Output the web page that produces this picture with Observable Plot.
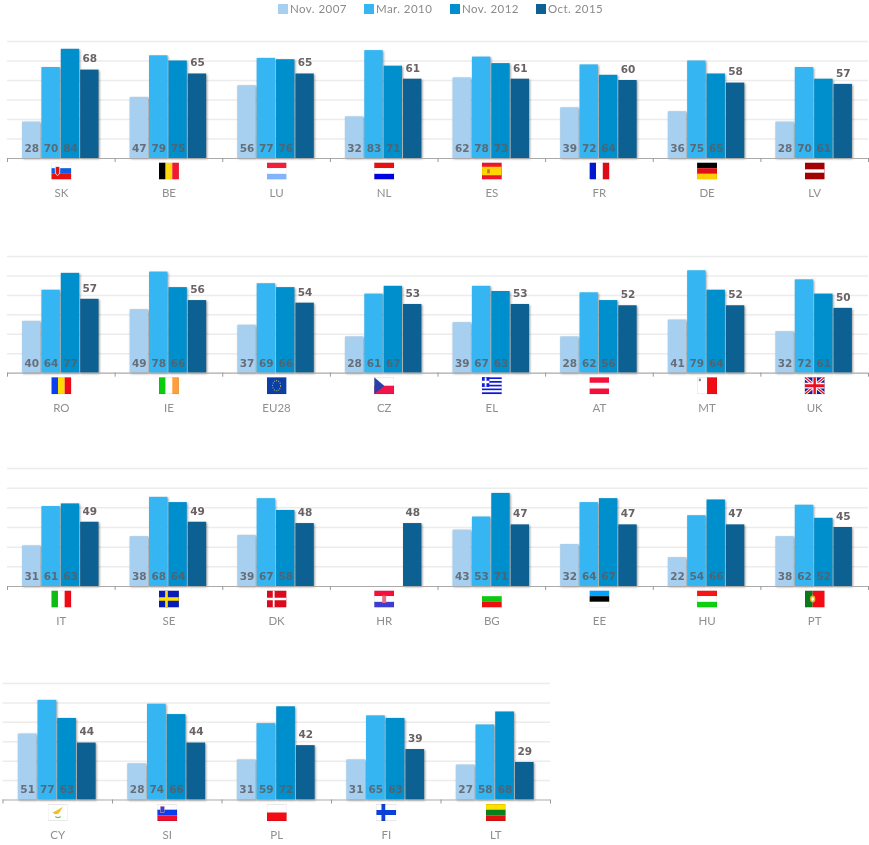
<!DOCTYPE html>
<html>
<head>
<meta charset="utf-8">
<script src="https://cdn.jsdelivr.net/npm/d3@7"></script>
<script src="https://cdn.jsdelivr.net/npm/@observablehq/plot@0.6"></script>
<style>
  html, body { margin: 0; padding: 0; background: #fff; }
  #page { position: relative; width: 869px; height: 845px; overflow: hidden; filter: blur(0.4px); }
  #page > * { position: absolute; }
  #legend { left: 278px; top: -8px; margin: 0 !important; width: 400px; display: flex; flex-wrap: nowrap; }
  #legend > span { width: 86px; margin: 0 !important; flex: none; letter-spacing: 0.45px; }
  #legend svg { margin-right: 2px !important; }
</style>
</head>
<body>
<div id="page"></div>
<script>
const seriesNames = ["Nov. 2007", "Mar. 2010", "Nov. 2012", "Oct. 2015"];
const seriesColors = ["#a6cff0", "#35b6f2", "#008fcd", "#0c6092"];

const rows = [
  ["SK","BE","LU","NL","ES","FR","DE","LV"],
  ["RO","IE","EU28","CZ","EL","AT","MT","UK"],
  ["IT","SE","DK","HR","BG","EE","HU","PT"],
  ["CY","SI","PL","FI","LT"]
];
const nov2007 = [28,47,56,32,62,39,36,28, 40,49,37,28,39,28,41,32, 31,38,39,null,43,32,22,38, 51,28,31,31,27];
const mar2010 = [70,79,77,83,78,72,75,70, 64,78,69,61,67,62,79,72, 61,68,67,null,53,64,54,62, 77,74,59,65,58];
const nov2012 = [84,75,76,71,73,64,65,61, 77,66,66,67,63,56,64,61, 63,64,58,null,71,67,66,52, 63,66,72,63,68];
const oct2015 = [68,65,65,61,61,60,58,57, 57,56,54,53,53,52,52,50, 49,49,48,48,47,47,47,45, 44,44,42,39,29];
const yTicks = [0,15,30,45,60,75,90];

const h = c => c.map((f,i,a)=>`<rect x="0" y="${i*60/a.length}" width="90" height="${60/a.length}" fill="${f}"/>`).join("");
const v = c => c.map((f,i,a)=>`<rect x="${i*90/a.length}" y="0" width="${90/a.length}" height="60" fill="${f}"/>`).join("");
const flagArt = {
  SK: h(["#fff","#0b5fe0","#e81010"]) + `<path d="M18 14h20v20q0 8-10 12q-10-4-10-12z" fill="#e81010" stroke="#fff" stroke-width="3"/>`,
  BE: v(["#000","#ffd90c","#f31830"]),
  LU: h(["#f0203c","#fff","#80b4ff"]),
  NL: h(["#e81010","#fff","#0000e0"]),
  ES: `<rect width="90" height="60" fill="#f0162a"/><rect y="15" width="90" height="30" fill="#ffd400"/><rect x="24" y="24" width="12" height="14" fill="#c8702a"/>`,
  FR: v(["#0018d0","#fff","#dd0a18"]),
  DE: h(["#000","#e0101a","#ffce00"]),
  LV: `<rect width="90" height="60" fill="#a40000"/><rect y="24" width="90" height="12" fill="#fff"/>`,
  RO: v(["#0b3ff0","#ffdc00","#ee0a18"]),
  IE: v(["#0ccc10","#fff","#ff9f3c"]),
  EU28: `<rect width="90" height="60" fill="#0a3fa8"/><circle cx="45" cy="30" r="18" fill="none" stroke="#c8b840" stroke-width="4" stroke-dasharray="4 5"/>`,
  CZ: `<rect width="90" height="30" fill="#fff"/><rect y="30" width="90" height="30" fill="#f0144a"/><path d="M0 0L45 30L0 60z" fill="#2a3fa8"/>`,
  EL: h(["#1018e0","#fff","#1018e0","#fff","#1018e0","#fff","#1018e0","#fff","#1018e0"]) + `<rect width="34" height="34" fill="#1018e0"/><path d="M13 0h8v34h-8zM0 13h34v8H0z" fill="#fff"/>`,
  AT: h(["#f4103c","#fff","#f4103c"]),
  MT: v(["#fff","#f00c14"]) + `<rect x="8" y="5" width="9" height="9" fill="#888"/>`,
  UK: `<rect width="90" height="60" fill="#1a1a9c"/><path d="M0 0L90 60M90 0L0 60" stroke="#fff" stroke-width="12"/><path d="M0 0L90 60M90 0L0 60" stroke="#e81020" stroke-width="5"/><path d="M45 0V60M0 30H90" stroke="#fff" stroke-width="20"/><path d="M45 0V60M0 30H90" stroke="#e81020" stroke-width="11"/>`,
  IT: v(["#0cbc14","#fff","#ee0a14"]),
  SE: `<rect width="90" height="60" fill="#0a1cb8"/><path d="M34 0V60M0 30H90" stroke="#ffe000" stroke-width="12"/>`,
  DK: `<rect width="90" height="60" fill="#dc0a1e"/><path d="M32 0V60M0 30H90" stroke="#fff" stroke-width="8"/>`,
  HR: h(["#f4103c","#fff","#3c3cd0"]) + `<rect x="36" y="18" width="18" height="26" fill="#e87088"/>`,
  BG: h(["#fff","#0cc810","#ee1010"]),
  EE: h(["#00a4ff","#000","#fff"]),
  HU: h(["#f81414","#fff","#0cd010"]),
  PT: `<rect x="0" y="0" width="36" height="60" fill="#0a7a1a"/><rect x="36" y="0" width="54" height="60" fill="#f40c14"/><circle cx="36" cy="30" r="12" fill="#e8b030"/><circle cx="36" cy="30" r="6" fill="#fff"/>`,
  CY: `<rect width="90" height="60" fill="#fff"/><path d="M22 30L42 22L68 10L56 26L48 34L32 36z" fill="#f0c020"/><path d="M34 44q12 8 24 0" fill="none" stroke="#70c060" stroke-width="5"/>`,
  SI: h(["#fff","#0a3cf0","#ee1030"]) + `<rect x="14" y="8" width="18" height="22" fill="#1a48e0" stroke="#f0a0a0" stroke-width="2"/>`,
  PL: h(["#fff","#f40c14"]),
  FI: `<rect width="90" height="60" fill="#fff"/><path d="M32 0V60M0 30H90" stroke="#0c40d8" stroke-width="17"/>`,
  LT: h(["#ffe000","#0a801a","#e01010"])
};
const flagSrc = code => "data:image/svg+xml," + encodeURIComponent(
  `<svg xmlns="http://www.w3.org/2000/svg" viewBox="0 0 90 60" preserveAspectRatio="none"><rect width="90" height="60" fill="#fff"/>${flagArt[code]}<rect x="1" y="1" width="88" height="58" fill="none" stroke="#000" stroke-opacity=".16" stroke-width="2"/></svg>`);

const page = document.getElementById("page");

const legend = Plot.legend({
  color: {type: "ordinal", domain: seriesNames, range: seriesColors},
  swatchSize: 10, style: {fontFamily: "Lato, sans-serif", fontSize: "11.5px", color: "#8a8a8a"}
});
legend.id = "legend";
page.appendChild(legend);

// each row: left and right ends of the axis, top grid line and baseline (page pixels)
const rowBoxes = [
  {x0: 7, x1: 868, top: 41, base: 158},
  {x0: 7, x1: 868, top: 256, base: 372.7},
  {x0: 7, x1: 868, top: 467.5, base: 585.5},
  {x0: 2.5, x1: 550, top: 683, base: 799.5}
];
const marginTop = 30, marginBottom = 48;
const valueFont = {fontSize: 10.5, fontWeight: 700, fontFamily: "'DejaVu Sans', sans-serif", lineAnchor: "middle"};
let offset = 0;
rows.forEach((names, r) => {
  const b = rowBoxes[r];
  const n = names.length;
  const table = names.flatMap((name, i) => {
    const k = offset + i;
    return [nov2007[k], mar2010[k], nov2012[k], oct2015[k]].map((value, s) => ({name, i, s, value}));
  }).filter(d => d.value != null);
  offset += n;
  const cats = names.map((name, i) => ({name, i}));
  const barW = 0.18, start = 0.135;
  const chart = Plot.plot({
    width: 869,
    height: b.base - b.top + marginTop + marginBottom,
    marginLeft: b.x0, marginRight: 869 - b.x1, marginTop, marginBottom,
    x: {domain: [0, n], axis: null},
    y: {domain: [0, 90], axis: null},
    style: {background: "transparent", overflow: "visible"},
    marks: [
      Plot.ruleY(yTicks.filter(t => t > 0), {stroke: "#ececec", strokeWidth: 1.5}),
      Plot.rectY(table, {
        x1: d => d.i + start + d.s * barW,
        x2: d => d.i + start + (d.s + 1) * barW,
        y1: 0, y2: "value",
        fill: d => seriesColors[d.s],
        insetLeft: 0.5, insetRight: 0.5,
        imageFilter: "drop-shadow(1.2px 1.2px 1.2px rgba(0,0,0,.4))"
      }),
      Plot.ruleY([0], {stroke: "#aaa", strokeWidth: 1.2}),
      Plot.axisX({ticks: d3.range(n + 1), tickSize: 4, tickFormat: () => "", stroke: "#999", label: null}),
      Plot.text(table.filter(d => d.s < 3), {
        x: d => d.i + start + (d.s + 0.5) * barW, y: 0, dy: -10,
        text: "value", fill: "#5d5d62", fillOpacity: 0.85, ...valueFont
      }),
      Plot.text(table.filter(d => d.s === 3), {
        x: d => d.i + start + 3.5 * barW, y: "value", dy: -11,
        text: "value", fill: "#6a6265", ...valueFont
      }),
      Plot.image(cats, {x: d => d.i + 0.5, y: 0, dy: 12.5, width: 20, height: 17, src: d => flagSrc(d.name), preserveAspectRatio: "none"}),
      Plot.text(cats, {x: d => d.i + 0.5, y: 0, dy: 35, text: "name", fill: "#8f8f8f", fontSize: 11.5, fontFamily: "Lato, sans-serif", lineAnchor: "middle"})
    ]
  });
  chart.style.left = "0px";
  chart.style.top = (b.top - marginTop) + "px";
  page.appendChild(chart);
});
</script>
</body>
</html>
